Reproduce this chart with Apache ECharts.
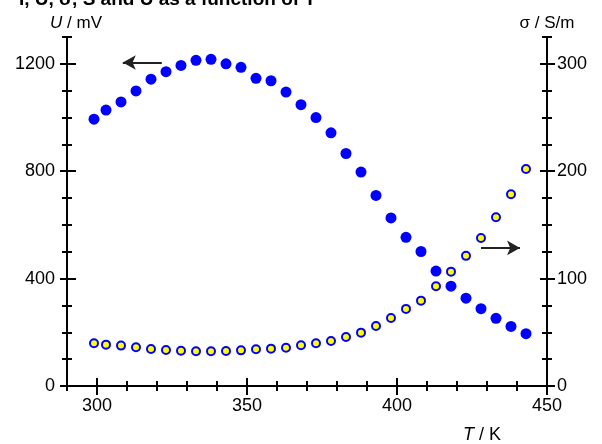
<!DOCTYPE html>
<html><head><meta charset="utf-8">
<script src="https://cdn.jsdelivr.net/npm/echarts@6/dist/echarts.min.js"></script>
<style>html,body{margin:0;padding:0;background:#fff}#c{width:602px;height:444px}</style>
</head><body><div id="c"></div>
<script>
// Temperature (K)
const T = [299, 303, 308, 313, 318, 323, 328, 333, 338, 343, 348, 353, 358, 363, 368,
           373, 378, 383, 388, 393, 398, 403, 408, 413, 418, 423, 428, 433, 438, 443];
// U (mV), left axis
const U = [994, 1028, 1058, 1099, 1143, 1171, 1194, 1213, 1217, 1200, 1187, 1146, 1137, 1095, 1048,
           1000, 943, 866, 797, 710, 626, 554, 501, 428, 372, 327, 288, 252, 222, 195];
// sigma (S/m), right axis
const SIGMA = [39.8, 38.5, 37.6, 36.1, 34.5, 33.6, 32.9, 32.3, 32.3, 32.6, 33.2, 34.2, 34.8, 35.7, 37.9,
               39.8, 41.9, 45.7, 49.7, 55.9, 63.4, 71.8, 79.5, 92.9, 106.5, 121.2, 137.9, 157.2, 178.5, 202.0];
// tick values
const xMajor = [300, 350, 400, 450];
const xMinor = [290, 300, 310, 320, 330, 340, 350, 360, 370, 380, 390, 400, 410, 420, 430, 440, 450];
const uMajor = [0, 400, 800, 1200];
const uMinor = [0, 100, 200, 300, 400, 500, 600, 700, 800, 900, 1000, 1100, 1200, 1300];
const sMajor = [0, 100, 200, 300];
const sMinor = [0, 25, 50, 75, 100, 125, 150, 175, 200, 225, 250, 275, 300, 325];
// annotation arrows [from, to] in data units
const arrowU = [[321.6, 1205], [308.6, 1205]];
const arrowS = [[428, 128.6], [441, 128.6]];

const FONT = 'Liberation Sans, Arial, sans-serif';
const FS = 18;
const lineStyle = {color: '#000', width: 2};
const X = T.map((t, i) => [t, U[i]]);
const Y = T.map((t, i) => [t, SIGMA[i]]);
const plain = v => String(v);

function tickAxis(base, values, offset, len) {
  return Object.assign({}, base, {
    offset: offset,
    axisLine: {show: false},
    axisLabel: {show: false},
    splitLine: {show: false},
    axisTick: {show: true, inside: false, length: len, lineStyle: lineStyle, customValues: values}
  });
}

const xBase = {type: 'value', min: 290, max: 450, position: 'bottom'};
const uBase = {type: 'value', min: 0, max: 1300, position: 'left'};
const sBase = {type: 'value', min: 0, max: 325, position: 'right'};

const chart = echarts.init(document.getElementById('c'), null, {renderer: 'canvas'});
chart.setOption({
  animation: false,
  backgroundColor: '#fff',
  textStyle: {fontFamily: FONT},
  title: {
    text: 'I, U, σ, S and U as a function of T',
    left: 14, top: -15,
    textStyle: {fontFamily: FONT, fontSize: 19, fontWeight: 'bold', color: '#000'}
  },
  grid: {left: 67, right: 55, top: 37, bottom: 58, containLabel: false},
  xAxis: [
    Object.assign({}, xBase, {
      axisLine: {show: true, lineStyle: lineStyle},
      axisTick: {show: false},
      splitLine: {show: false},
      axisLabel: {customValues: xMajor, formatter: plain, margin: 11, color: '#000', fontSize: FS, fontFamily: FONT},
      name: '{i|T} / K',
      nameLocation: 'end',
      nameGap: -84,
      nameTextStyle: {
        color: '#000', fontSize: FS, fontFamily: FONT, verticalAlign: 'top', align: 'left',
        padding: [40, 0, 0, 0],
        rich: {i: {fontStyle: 'italic', fontSize: FS, fontFamily: FONT, color: '#000'}}
      }
    }),
    tickAxis(xBase, xMinor, -5, 10),
    tickAxis(xBase, xMajor, -8, 17)
  ],
  yAxis: [
    Object.assign({}, uBase, {
      axisLine: {show: true, lineStyle: lineStyle},
      axisTick: {show: false},
      splitLine: {show: false},
      axisLabel: {customValues: uMajor, formatter: plain, margin: 12, color: '#000', fontSize: FS, fontFamily: FONT},
      name: '{i|U} / mV',
      nameLocation: 'end',
      nameGap: 5,
      nameTextStyle: {
        color: '#000', fontSize: 17, fontFamily: FONT, align: 'center',
        padding: [0, 0, 0, 18],
        rich: {i: {fontStyle: 'italic', fontSize: 17, fontFamily: FONT, color: '#000'}}
      }
    }),
    Object.assign({}, sBase, {
      axisLine: {show: true, lineStyle: lineStyle},
      axisTick: {show: false},
      splitLine: {show: false},
      axisLabel: {customValues: sMajor, formatter: plain, margin: 10, color: '#000', fontSize: FS, fontFamily: FONT},
      name: 'σ / S/m',
      nameLocation: 'end',
      nameGap: 5,
      nameTextStyle: {color: '#000', fontSize: 17, fontFamily: FONT, align: 'center'}
    }),
    tickAxis(uBase, uMinor, -5, 10),
    tickAxis(uBase, uMajor, -9, 16),
    tickAxis(sBase, sMinor, -5, 10),
    tickAxis(sBase, sMajor, -7, 15)
  ],
  series: [
    {
      type: 'scatter', name: 'U', xAxisIndex: 0, yAxisIndex: 0,
      data: X, symbol: 'circle', symbolSize: 11,
      itemStyle: {color: '#0000ff', opacity: 1},
      markLine: {
        silent: true, symbol: ['none', 'arrow'], symbolSize: [11, 13],
        label: {show: false},
        lineStyle: {color: '#222', width: 2, type: 'solid'},
        data: [[{coord: arrowU[0]}, {coord: arrowU[1]}]]
      }
    },
    {
      type: 'scatter', name: 'σ', xAxisIndex: 0, yAxisIndex: 1,
      data: Y, symbol: 'circle', symbolSize: 8,
      itemStyle: {color: '#ffff00', borderColor: '#0000ff', borderWidth: 2, opacity: 1},
      markLine: {
        silent: true, symbol: ['none', 'arrow'], symbolSize: [11, 13],
        label: {show: false},
        lineStyle: {color: '#222', width: 2, type: 'solid'},
        data: [[{coord: arrowS[0]}, {coord: arrowS[1]}]]
      }
    }
  ]
});
</script>
</body></html>
